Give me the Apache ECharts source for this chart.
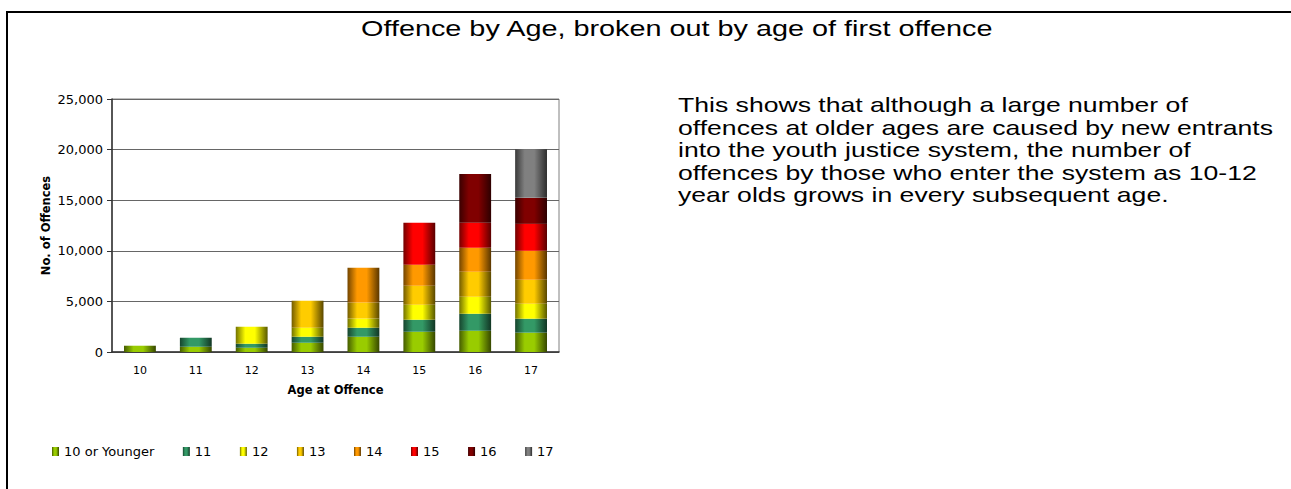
<!DOCTYPE html>
<html>
<head>
<meta charset="utf-8">
<script src="https://cdn.jsdelivr.net/npm/echarts@6/dist/echarts.min.js"></script>
<style>
html,body{margin:0;padding:0;background:#fff;}
#frame{position:absolute;left:6px;top:11px;width:1300px;height:490px;border-left:2px solid #000;border-top:2px solid #000;}
#chart{position:absolute;left:0;top:0;width:1291px;height:489px;}
</style>
</head>
<body>
<div id="frame"></div>
<div id="chart"></div>
<script>
const categories = ['10','11','12','13','14','15','16','17'];
const seriesNames = ['10 or Younger','11','12','13','14','15','16','17'];
const s10 = [620, 530, 430, 920, 1510, 2010, 2110, 1910];
const s11 = [null, 880, 390, 590, 890, 1180, 1670, 1380];
const s12 = [null, null, 1680, 890, 920, 1480, 1680, 1480];
const s13 = [null, null, null, 2670, 1580, 1880, 2470, 2370];
const s14 = [null, null, null, null, 3420, 2070, 2370, 2860];
const s15 = [null, null, null, null, null, 4140, 2460, 2660];
const s16 = [null, null, null, null, null, null, 4840, 2570];
const s17 = [null, null, null, null, null, null, null, 4800];
const seriesData = [s10, s11, s12, s13, s14, s15, s16, s17];
const baseColors = ['#99CC00','#339966','#FFFF00','#FFCC00','#FF9900','#FF0000','#800000','#808080'];
const yTicks = [0, 5000, 10000, 15000, 20000, 25000];
const titleText = 'Offence by Age, broken out by age of first offence';
const noteLines = [
  'This shows that although a large number of',
  'offences at older ages are caused by new entrants',
  'into the youth justice system, the number of',
  'offences by those who enter the system as 10-12',
  'year olds grows in every subsequent age.'
];

function shade(hex, f) {
  const n = parseInt(hex.slice(1), 16);
  const r = Math.round(((n >> 16) & 255) * f);
  const g = Math.round(((n >> 8) & 255) * f);
  const b = Math.round((n & 255) * f);
  return 'rgb(' + r + ',' + g + ',' + b + ')';
}
function grad(hex) {
  return new echarts.graphic.LinearGradient(0, 0, 1, 0, [
    {offset: 0, color: shade(hex, 0.45)},
    {offset: 0.3, color: hex},
    {offset: 0.6, color: hex},
    {offset: 1, color: shade(hex, 0.35)}
  ]);
}

const chart = echarts.init(document.getElementById('chart'), null, {renderer: 'svg'});
const fmt = v => v.toString().replace(/\B(?=(\d{3})+(?!\d))/g, ',');

const series = seriesNames.map((name, i) => ({
  name: name,
  type: 'bar',
  stack: 'total',
  barWidth: '57%',
  data: seriesData[i],
  itemStyle: {color: grad(baseColors[i])},
  emphasis: {disabled: true}
}));

chart.setOption({
  animation: false,
  legend: {
    data: seriesNames.map((n, i) => ({name: n, itemStyle: {color: grad(baseColors[i])}})),
    left: 47, top: 440,
    itemWidth: 7, itemHeight: 9, itemGap: 28.5,
    icon: 'rect',
    textStyle: {fontFamily: 'DejaVu Sans', fontSize: 13, color: '#000'}
  },
  grid: {left: 112, right: 732, top: 99, bottom: 137, show: true, borderColor: '#808080', borderWidth: 1},
  xAxis: {
    type: 'category',
    data: categories,
    name: 'Age at Offence',
    nameLocation: 'middle',
    nameGap: 32,
    nameTextStyle: {fontFamily: 'DejaVu Sans', fontSize: 11.5, fontWeight: 'bold', color: '#000'},
    axisLine: {lineStyle: {color: '#333', width: 1.5}},
    axisTick: {length: 5, lineStyle: {color: '#333'}},
    axisLabel: {fontFamily: 'DejaVu Sans', fontSize: 11, color: '#000', margin: 13}
  },
  yAxis: {
    type: 'value',
    min: 0, max: 25000, interval: 5000,
    name: 'No. of Offences',
    nameLocation: 'middle',
    nameGap: 60,
    nameTextStyle: {fontFamily: 'DejaVu Sans', fontSize: 11.5, fontWeight: 'bold', color: '#000'},
    axisLine: {show: true, lineStyle: {color: '#333', width: 1.5}},
    axisTick: {show: true, length: 5, lineStyle: {color: '#333'}},
    axisLabel: {fontFamily: 'DejaVu Sans', fontSize: 13, color: '#000', margin: 9,
      formatter: v => yTicks.includes(v) ? fmt(v) : ''},
    splitLine: {lineStyle: {color: '#666', width: 1}}
  },
  graphic: [{
    type: 'text',
    x: 361, y: 17,
    scaleX: 1.31,
    style: {
      text: titleText,
      fontFamily: 'Liberation Sans', fontSize: 22, fill: '#000',
      verticalAlign: 'top', align: 'left'
    }
  }, {
    type: 'text',
    x: 678, y: 94,
    scaleX: 1.33,
    style: {
      text: noteLines.join('\n'),
      fontFamily: 'Liberation Sans', fontSize: 20, lineHeight: 22.5, fill: '#000',
      verticalAlign: 'top', align: 'left'
    }
  }],
  series: series
});
</script>
</body>
</html>
